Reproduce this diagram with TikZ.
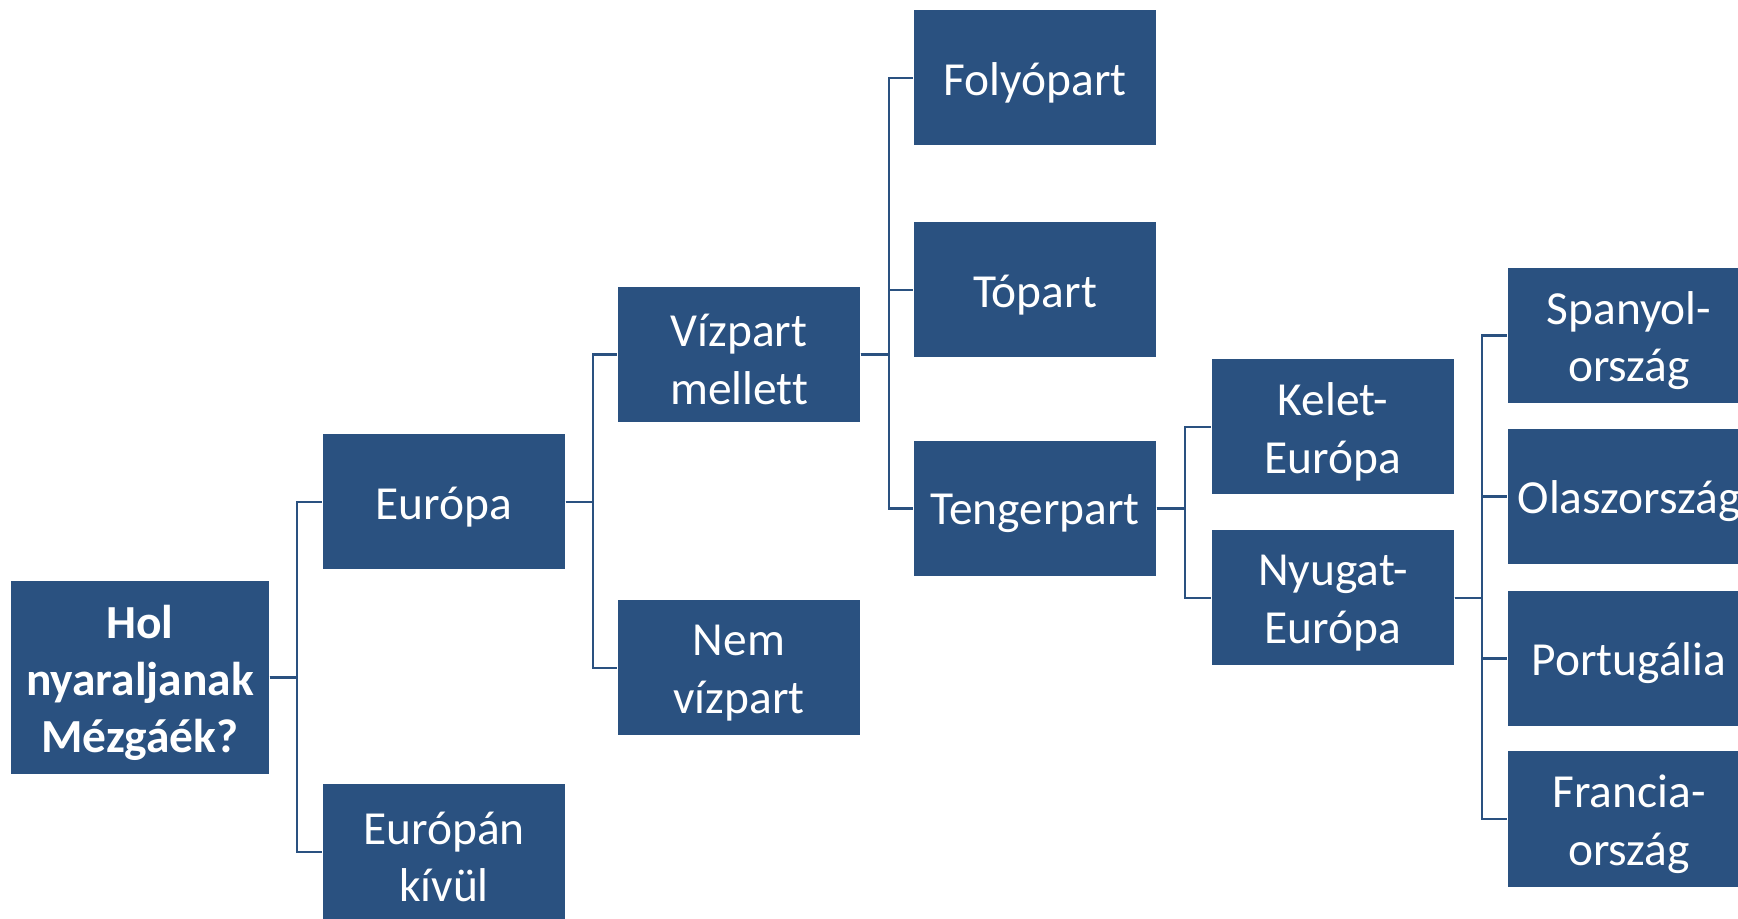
\documentclass[tikz,border=0pt]{standalone}
\usepackage{fontspec}
\setmainfont{Carlito}[Ligatures=CommonOff]
\usepackage{tikz}

\definecolor{boxblue}{HTML}{2A5180}

\begin{document}
\begin{tikzpicture}[
    boxtext/.style={text=white, inner sep=0pt, align=center, yshift=-0.05cm,
        font=\fontsize{13.5}{16.4}\selectfont},
    box/.style={fill=boxblue, minimum width=2.42cm, minimum height=1.35cm,
        inner sep=0pt, label={[boxtext]center:#1}},
    rootbox/.style={fill=boxblue, minimum width=2.58cm, minimum height=1.93cm,
        inner sep=0pt, label={[boxtext, font=\fontsize{13.5}{16.2}\selectfont\bfseries]center:#1}},
    link/.style={draw=boxblue, line width=0.6pt}
]
    \useasboundingbox (0, 0) rectangle (17.38, 9.18);
    \clip (0, 0) rectangle (17.38, 9.18);

    % Question
    \node[rootbox={Hol\\nyaraljanak\\Mézgáék?}] (hol) at (1.40, 2.405) {};

    % Europe or not
    \node[box={Európa}] (europa) at (4.44, 4.16) {};
    \node[box={Európán\\kívül}] (kivul) at (4.44, 0.66) {};

    % Water or not
    \node[box={Vízpart\\mellett}] (vizpart) at (7.39, 5.635) {};
    \node[box={Nem\\vízpart}] (nemviz) at (7.39, 2.50) {};

    % Kind of shore
    \node[box={Folyópart}] (folyo) at (10.35, 8.40) {};
    \node[box={Tópart}] (to) at (10.35, 6.28) {};
    \node[box={Tengerpart}] (tenger) at (10.35, 4.095) {};

    % East or west
    \node[box={Kelet-\\Európa}] (kelet) at (13.33, 4.91) {};
    \node[box={Nyugat-\\Európa}] (nyugat) at (13.33, 3.20) {};

    % Countries
    \node[box={Spanyol-\\ország}] (spanyol) at (16.29, 5.825) {};
    \node[box={Olaszország}] (olasz) at (16.29, 4.215) {};
    \node[box={Portugália}] (portugal) at (16.29, 2.595) {};
    \node[box={Francia-\\ország}] (francia) at (16.29, 0.99) {};

    % Connectors
    \draw[link] (hol.east) -- ++(0.27, 0) |- (europa.west);
    \draw[link] (hol.east) -- ++(0.27, 0) |- (kivul.west);
    \draw[link] (europa.east) -- ++(0.27, 0) |- (vizpart.west);
    \draw[link] (europa.east) -- ++(0.27, 0) |- (nemviz.west);
    \foreach \child in {folyo, to, tenger}
        \draw[link] (vizpart.east) -- ++(0.28, 0) |- (\child.west);
    \foreach \child in {kelet, nyugat}
        \draw[link] (tenger.east) -- ++(0.28, 0) |- (\child.west);
    \foreach \child in {spanyol, olasz, portugal, francia}
        \draw[link] (nyugat.east) -- ++(0.27, 0) |- (\child.west);
\end{tikzpicture}
\end{document}
